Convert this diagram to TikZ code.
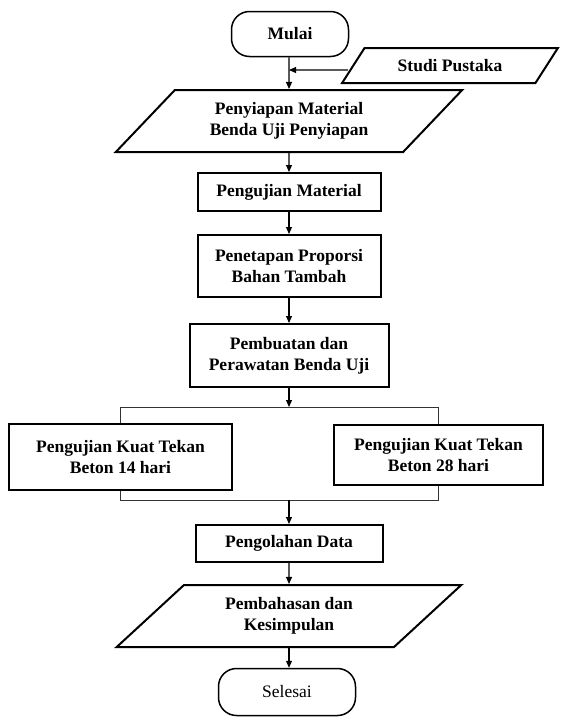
\documentclass[tikz,border=0pt]{standalone}
\usepackage{fontspec}
\setmainfont{Liberation Serif}[BoldFont={Liberation Serif Bold}]
\usetikzlibrary{shapes.geometric, arrows.meta}

\begin{document}
\begin{tikzpicture}[x=1pt, y=-1pt,
    every node/.style={font=\bfseries\fontsize{17.5}{21}\selectfont, align=center, inner sep=0pt},
    procbox/.style={draw, rectangle, line width=2pt},
    iobox/.style={draw, trapezium, trapezium left angle=42, trapezium right angle=138, trapezium stretches=true, line width=2pt},
    endbox/.style={draw, rectangle, rounded corners=18pt, line width=1.5pt},
    flow/.style={-{Triangle[length=7pt,width=6pt]}, line width=1.1pt},
    link/.style={line width=1pt, black!80}]
    \useasboundingbox (0,0) rectangle (560,718);
    % start and literature input
    \node[endbox, minimum width=117pt, minimum height=45pt] (mulai) at (290,34) {Mulai};
    \node[iobox, minimum width=216pt, minimum height=35pt] (studi) at (450,65.5) {Studi Pustaka};
    \coordinate (join) at (289,70);
    % main chain
    \node[iobox, minimum width=347pt, minimum height=62pt] (siap) at (289,121) {Penyiapan Material\\Benda Uji Penyiapan};
    \node[procbox, minimum width=183pt, minimum height=38pt] (ujimat) at (289,192) {Pengujian Material};
    \node[procbox, minimum width=183pt, minimum height=62pt] (tetap) at (289,266) {Penetapan Proporsi\\Bahan Tambah};
    \node[procbox, minimum width=199pt, minimum height=63pt] (buat) at (289,355.5) {Pembuatan dan\\Perawatan Benda Uji};
    \coordinate (split) at (289,407);
    \node[procbox, minimum width=223pt, minimum height=66pt] (uji14) at (120.5,457) {Pengujian Kuat Tekan\\Beton 14 hari};
    \node[procbox, minimum width=209pt, minimum height=60pt] (uji28) at (438.5,455) {Pengujian Kuat Tekan\\Beton 28 hari};
    \coordinate (merge) at (289,500);
    \node[procbox, minimum width=187pt, minimum height=37pt] (olah) at (289,543.5) {Pengolahan Data};
    \node[iobox, minimum width=345pt, minimum height=62pt] (bahas) at (289,616) {Pembahasan dan\\Kesimpulan};
    \node[endbox, minimum width=137pt, minimum height=47pt, font=\fontsize{17.5}{21}\selectfont] (selesai) at (287,692) {Selesai};
    % connectors
    \draw[flow] (mulai.south -| join) -- (siap.north);
    \draw[flow] ([xshift=-4.3pt, yshift=-4.5pt]studi.west) -- (join);
    \draw[flow] (siap.south) -- (ujimat.north);
    \draw[flow] (ujimat.south) -- (tetap.north);
    \draw[flow] (tetap.south) -- (buat.north);
    \draw[flow] (buat.south) -- (split);
    \draw[link] (uji14.north) -- (uji14.north |- split) -- (uji28.north |- split) -- (uji28.north);
    \draw[link] (uji14.south) -- (uji14.south |- merge) -- (uji28.south |- merge) -- (uji28.south);
    \draw[flow] (merge) -- (olah.north);
    \draw[flow] (olah.south) -- (bahas.north);
    \draw[flow] (bahas.south) -- (bahas.south |- selesai.north);
\end{tikzpicture}
\end{document}
